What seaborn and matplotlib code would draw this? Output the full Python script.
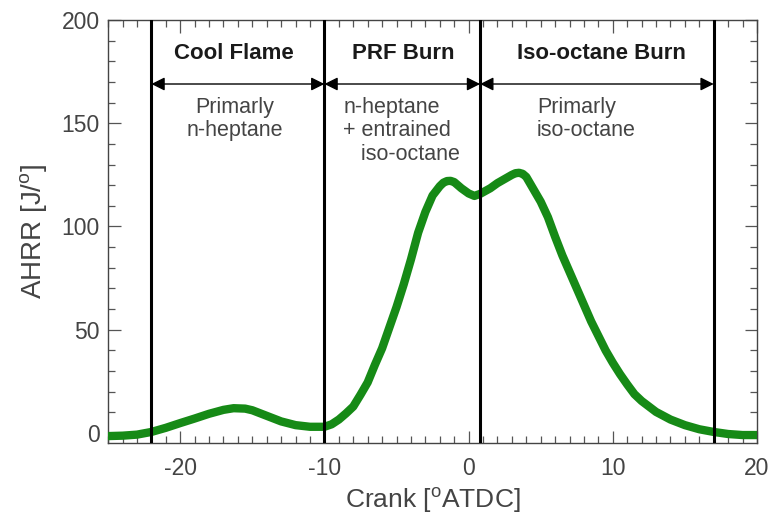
import numpy as np
import pandas as pd
import matplotlib
matplotlib.use("Agg")
import matplotlib.pyplot as plt
from matplotlib.ticker import MultipleLocator
import seaborn as sns

# Apparent heat release rate vs crank angle
crank = [-25.0, -24.0, -23.0, -22.0, -21.0, -20.0, -19.0, -18.0, -17.0, -16.3,
         -15.5, -15.0, -14.0, -13.0, -12.0, -11.0, -10.0, -9.5, -9.0, -8.5,
         -8.0, -7.5, -7.0, -6.5, -6.0, -5.5, -5.0, -4.5, -4.0, -3.5,
         -3.0, -2.5, -2.0, -1.75, -1.5, -1.25, -1.0, -0.5, 0.0, 0.4, 0.8, 1.5,
         2.0, 2.5, 3.0, 3.25, 3.5, 3.75, 4.0, 4.5, 5.0, 5.5, 6.0, 6.5,
         7.0, 7.5, 8.0, 8.5, 9.0, 9.5, 10.0, 10.5, 11.0, 11.5,
         12.0, 13.0, 14.0, 15.0, 16.0, 17.0, 18.0, 19.0, 20.0]
ahrr = [-1.5, -1.3, -0.8, 0.5, 2.5, 4.8, 7.0, 9.3, 11.2, 12.0,
        11.8, 11.0, 8.3, 5.6, 3.8, 3.0, 3.0, 4.2, 6.5, 9.5,
        12.8, 18.5, 24.5, 33.0, 41.0, 51.0, 61.0, 72.0, 84.0, 97.0,
        107.0, 115.0, 119.5, 121.2, 122.0, 122.1, 121.5, 118.5, 116.0, 114.8, 115.8, 118.5,
        121.0, 123.0, 125.0, 125.8, 126.0, 125.5, 124.0, 118.0, 112.0, 104.5, 95.0, 86.0,
        78.0, 70.0, 62.0, 54.0, 47.0, 40.0, 34.0, 28.5, 23.5, 18.8,
        15.5, 10.2, 6.5, 3.8, 1.8, 0.5, -0.5, -1.0, -1.0]

# Combustion phase boundaries and labels
boundaries = [-22.0, -10.0, 0.8, 17.0]
phase_titles = ["Cool Flame", "PRF Burn", "Iso-octane Burn"]
title_x = [-16.3, -4.5, 9.2]

x_ticks = [-20, -10, 0, 10, 20]
y_ticks = [0, 50, 100, 150, 200]

sns.set_style("ticks")
plt.rcParams["font.family"] = ["Liberation Sans", "DejaVu Sans"]
plt.rcParams["mathtext.fontset"] = "custom"
plt.rcParams["mathtext.rm"] = "Liberation Sans"
plt.rcParams["axes.unicode_minus"] = False

fig = plt.figure(figsize=(7.78, 5.26), dpi=100)
ax = fig.add_axes([0.139, 0.158, 0.834, 0.804])

df = pd.DataFrame({"crank": crank, "ahrr": ahrr})
sns.lineplot(data=df, x="crank", y="ahrr", ax=ax, color="#168a16",
             linewidth=6, sort=True, zorder=3,
             solid_capstyle="round", solid_joinstyle="round")

for b in boundaries:
    ax.axvline(b, color="black", linewidth=2.2, zorder=4)

ax.set_xlim(-25, 20)
ax.set_ylim(-4.8, 200)
ax.set_xticks(x_ticks)
ax.set_yticks(y_ticks)
ax.xaxis.set_minor_locator(MultipleLocator(1))
ax.yaxis.set_minor_locator(MultipleLocator(10))
ax.tick_params(which="both", direction="in", top=True, right=True,
               color="#555555", width=0.9)
ax.tick_params(which="major", length=9)
ax.tick_params(which="minor", length=5)
ax.tick_params(axis="x", which="major", pad=10, labelsize=16.5, labelcolor="#444444")
ax.tick_params(axis="y", which="major", pad=6, labelsize=16.5, labelcolor="#444444")
for s in ax.spines.values():
    s.set_color("#444444")
    s.set_linewidth(1.0)

ax.set_xlabel(r"Crank [$^\mathregular{o}$ATDC]", fontsize=19, color="#444444", labelpad=4)
ax.set_ylabel(r"AHRR [J/$^\mathregular{o}$]", fontsize=20, color="#444444", labelpad=8)

# Phase arrows and titles
arrow_y = 169.0
for i, title in enumerate(phase_titles):
    x0, x1 = boundaries[i], boundaries[i + 1]
    ax.annotate("", xy=(x0, arrow_y), xytext=(x1, arrow_y),
                arrowprops=dict(arrowstyle="<|-|>", color="black", lw=1.0,
                                mutation_scale=20, shrinkA=0, shrinkB=0),
                zorder=5)
    ax.text(title_x[i], 183.8, title, ha="center", va="center",
            fontsize=16, fontweight="bold", color="#1a1a1a")

# Descriptions of the fuel burned in each phase
line_y = [157.6, 146.3, 134.7]
txt_kw = dict(fontsize=15.5, color="#444444", va="center")
for j, line in enumerate(["Primarly", "n-heptane"]):
    ax.text(-16.2, line_y[j], line, ha="center", **txt_kw)
for j, line in enumerate(["n-heptane", "+ entrained", "   iso-octane"]):
    ax.text(-8.7, line_y[j], line, ha="left", **txt_kw)
for j, line in enumerate(["Primarly", "iso-octane"]):
    ax.text(4.75, line_y[j], line, ha="left", **txt_kw)

fig.savefig("out.png", dpi=100)
